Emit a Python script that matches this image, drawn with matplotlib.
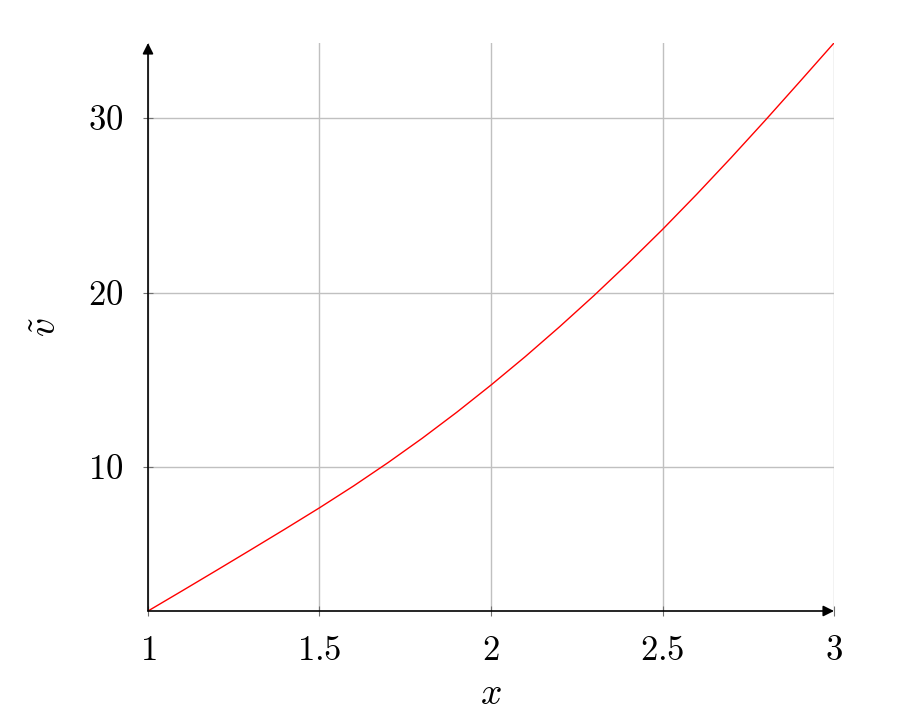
from matplotlib import pyplot as plt
from matplotlib.ticker import FuncFormatter
import numpy as np

plt.rcParams['mathtext.fontset'] = 'cm'
plt.rcParams['font.family'] = 'serif'
plt.rcParams['font.serif'] = ['cmr10', 'DejaVu Serif']

# values
x_vals = [1.0, 1.1, 1.2, 1.3, 1.4, 1.5, 1.6, 1.7, 1.8, 1.9, 2.0,
          2.1, 2.2, 2.3, 2.4, 2.5, 2.6, 2.7, 2.8, 2.9, 3.0]
v_vals = [1.76, 2.92, 4.09, 5.27, 6.46, 7.67, 8.93, 10.26, 11.66, 13.14, 14.70,
          16.33, 18.04, 19.82, 21.68, 23.61, 25.63, 27.72, 29.87, 32.07, 34.29]
x_ticks = [1, 1.5, 2, 2.5, 3]
y_ticks = [10, 20, 30]

fig = plt.figure(figsize=(9.23, 7.24), dpi=100)
ax = fig.add_axes([148/923, 1 - 611/724, (834 - 148)/923, (611 - 43)/724])

ax.plot(x_vals, v_vals, color='red', lw=1.0, zorder=3)
ax.set_xlim(x_vals[0], x_vals[-1])
ax.set_ylim(v_vals[0], v_vals[-1])

ax.set_xticks(x_ticks)
ax.set_yticks(y_ticks)
fmt = FuncFormatter(lambda v, p: f'${v:g}$')
ax.xaxis.set_major_formatter(fmt)
ax.yaxis.set_major_formatter(fmt)
ax.tick_params(direction='inout', length=7, width=0.8, color='#707070',
               labelsize=25)
ax.tick_params(axis='x', pad=14)
ax.tick_params(axis='y', pad=14)

ax.grid(True, color='#c0c0c0', lw=1.0)
ax.set_axisbelow(True)

for s in ax.spines.values():
    s.set_visible(False)

# axis lines with arrow heads (pgfplots "axis lines = left" look)
arrow = dict(arrowstyle='-|>', color='black', lw=1.2, mutation_scale=16,
             shrinkA=0, shrinkB=0)
ax.annotate('', xy=(1.0, 0), xytext=(0, 0), xycoords='axes fraction', arrowprops=arrow)
ax.annotate('', xy=(0, 1.0), xytext=(0, 0), xycoords='axes fraction', arrowprops=arrow)

ax.set_xlabel('$x$', fontsize=27, labelpad=8)
ax.set_ylabel(r'$\tilde{v}$', fontsize=27, labelpad=18)

plt.savefig('out.png', dpi=100)
